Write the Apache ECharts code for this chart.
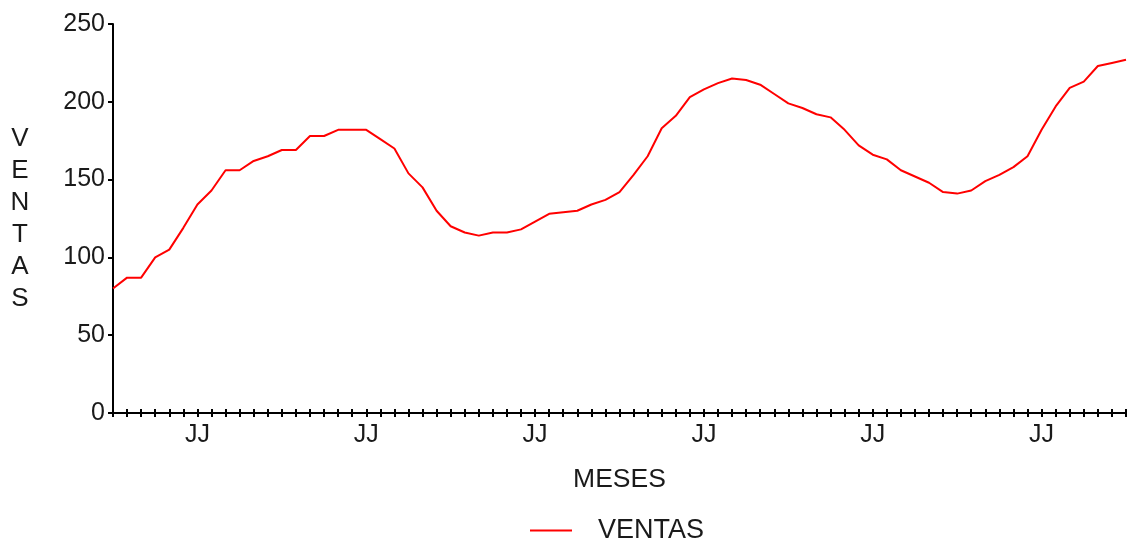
<!DOCTYPE html>
<html>
<head>
<meta charset="utf-8">
<title>VENTAS</title>
<script src="https://cdn.jsdelivr.net/npm/echarts@6/dist/echarts.min.js"></script>
<style>
  html, body { margin: 0; padding: 0; background: #fff; }
  #chart { width: 1129px; height: 546px; }
</style>
</head>
<body>
<div id="chart"></div>
<script>
// etiquetas del eje x: un año de meses, se repite 6 veces (+1 punto final)
const etiquetasMes = ['', '', '', '', '', '', 'JJ', '', '', '', '', '']
const meses = []
for (let i = 0; i <= 72; i++) meses.push(etiquetasMes[i % 12])

// ventas mensuales
const ventas = [
  80, 87, 87, 100, 105, 119, 134, 143, 156, 156, 162, 165, 169, 169, 178, 178, 182, 182, 182,
  176, 170, 154, 145, 130, 120, 116, 114, 116, 116, 118, 123, 128, 129, 130, 134, 137, 142,
  153, 165, 183, 191, 203, 208, 212, 215, 214, 211, 205, 199, 196, 192, 190, 182, 172, 166,
  163, 156, 152, 148, 142, 141, 143, 149, 153, 158, 165, 182, 197, 209, 213, 223, 225, 227
]

// eje y
const yMin = 0
const yMax = 250
const yPaso = 50

const fuente = 'Liberation Sans'
const colorTexto = '#1a1a1a'

const chart = echarts.init(document.getElementById('chart'))

chart.setOption({
  animation: false,
  grid: {left: 113, right: 0, top: 24, bottom: 133},
  legend: {
    left: 530,
    top: 517,
    padding: 0,
    icon: 'rect',
    itemWidth: 42,
    itemHeight: 2,
    data: ['VENTAS'],
    textStyle: {fontFamily: fuente, fontSize: 27, color: colorTexto, padding: [0, 0, 0, 21]}
  },
  xAxis: [
    {
      type: 'category',
      position: 'bottom',
      boundaryGap: false,
      data: meses,
      name: 'MESES',
      nameLocation: 'middle',
      nameGap: 53,
      nameTextStyle: {fontFamily: fuente, fontSize: 26.5, color: colorTexto},
      axisLine: {lineStyle: {color: '#000', width: 2}},
      axisTick: {interval: 0, length: 4, lineStyle: {color: '#000', width: 2}},
      axisLabel: {interval: 0, margin: 10, fontFamily: fuente, fontSize: 25, color: colorTexto},
      splitLine: {show: false}
    },
    {
      // segundo eje solo para que las marcas crucen la línea
      type: 'category',
      position: 'bottom',
      boundaryGap: false,
      data: meses,
      axisLine: {show: false},
      axisTick: {interval: 0, inside: true, length: 4, lineStyle: {color: '#000', width: 2}},
      axisLabel: {show: false},
      splitLine: {show: false}
    }
  ],
  yAxis: {
    type: 'value',
    min: yMin,
    max: yMax,
    interval: yPaso,
    name: 'V\nE\nN\nT\nA\nS',
    nameLocation: 'middle',
    nameRotate: 0,
    nameGap: 93,
    nameTextStyle: {fontFamily: fuente, fontSize: 26, color: colorTexto, lineHeight: 32, align: 'center'},
    axisLine: {show: true, lineStyle: {color: '#000', width: 2}},
    axisTick: {show: true, length: 5, lineStyle: {color: '#000', width: 2}},
    axisLabel: {margin: 8, fontFamily: fuente, fontSize: 25, color: colorTexto},
    splitLine: {show: false}
  },
  series: [
    {
      name: 'VENTAS',
      type: 'line',
      xAxisIndex: 0,
      data: ventas,
      showSymbol: false,
      symbol: 'none',
      lineStyle: {color: '#ff0000', width: 2},
      itemStyle: {color: '#ff0000'}
    }
  ]
})
</script>
</body>
</html>
